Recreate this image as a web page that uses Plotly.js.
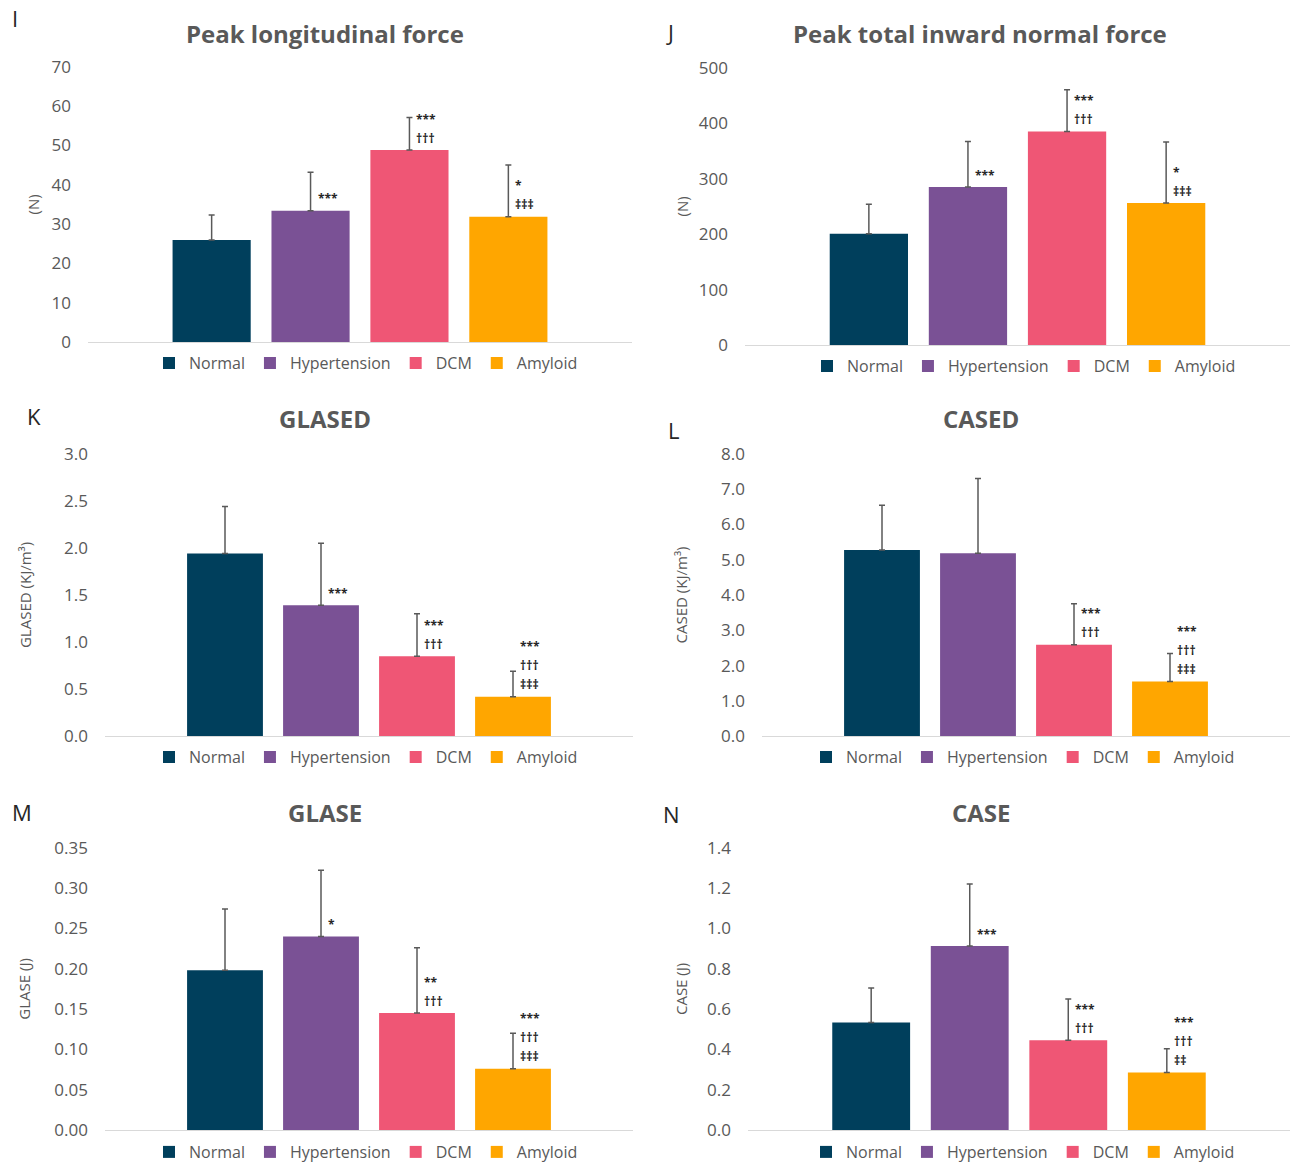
<!DOCTYPE html>
<html>
<head>
<meta charset="utf-8">
<script src="https://cdn.plot.ly/plotly-3.0.1.min.js"></script>
<style>
  html, body { margin: 0; padding: 0; background: #ffffff; }
  #chart { width: 1295px; height: 1169px; }
</style>
</head>
<body>
<div id="chart"></div>
<script>
// Groups and their colours
const groups = ['Normal', 'Hypertension', 'DCM', 'Amyloid'];
const groupColors = ['#003f5c', '#7a5195', '#ef5675', '#ffa600'];

// I: Peak longitudinal force (N), mean and SD
const peakLongMean = [26.0, 33.4, 48.8, 31.9];
const peakLongSD   = [6.3, 9.8, 8.3, 13.1];
const peakLongSig  = [[], ['***'], ['***', '†††'], ['*', '‡‡‡']];

// J: Peak total inward normal force (N)
const peakInwardMean = [201, 285, 385, 256];
const peakInwardSD   = [53, 82, 75, 110];
const peakInwardSig  = [[], ['***'], ['***', '†††'], ['*', '‡‡‡']];

// K: GLASED (KJ/m3)
const glasedMean = [1.94, 1.39, 0.85, 0.42];
const glasedSD   = [0.50, 0.66, 0.45, 0.27];
const glasedSig  = [[], ['***'], ['***', '†††'], ['***', '†††', '‡‡‡']];

// L: CASED (KJ/m3)
const casedMean = [5.27, 5.18, 2.59, 1.55];
const casedSD   = [1.27, 2.12, 1.16, 0.79];
const casedSig  = [[], [], ['***', '†††'], ['***', '†††', '‡‡‡']];

// M: GLASE (J)
const glaseMean = [0.198, 0.240, 0.145, 0.076];
const glaseSD   = [0.076, 0.082, 0.081, 0.044];
const glaseSig  = [[], ['*'], ['**', '†††'], ['***', '†††', '‡‡‡']];

// N: CASE (J)
const caseMean = [0.533, 0.912, 0.445, 0.286];
const caseSD   = [0.172, 0.308, 0.205, 0.118];
const caseSig  = [[], ['***'], ['***', '†††'], ['***', '†††', '‡‡']];

const FONT = 'Open Sans, Noto Sans, sans-serif';
const GREY = '#595959';

// Panel layout: pixel boxes of each plotting area on the 1295x1169 page
const W = 1295, H = 1169;
const panels = [
  { letter: 'I', title: 'Peak longitudinal force', ytitle: '(N)', ytStandoff: 8,
    mean: peakLongMean, sd: peakLongSD, sig: peakLongSig,
    range: [0, 70], dtick: 10, fmt: 'd',
    box: [88, 632, 67, 344], letterPos: [10, 18], titlePos: [325, 34], legendPos: [366, 365] },
  { letter: 'J', title: 'Peak total inward normal force', ytitle: '(N)', ytStandoff: 6,
    mean: peakInwardMean, sd: peakInwardSD, sig: peakInwardSig,
    range: [0, 500], dtick: 100, fmt: 'd',
    box: [745, 1290, 68, 347], letterPos: [664, 32], titlePos: [980, 34], legendPos: [1024, 368] },
  { letter: 'K', title: 'GLASED', ytitle: 'GLASED (KJ/m³)', ytStandoff: 28,
    mean: glasedMean, sd: glasedSD, sig: glasedSig,
    range: [0, 3], dtick: 0.5, fmt: '.1f',
    box: [105, 633, 456, 740], letterPos: [25, 418], titlePos: [325, 421], legendPos: [366, 761] },
  { letter: 'L', title: 'CASED', ytitle: 'CASED (KJ/m³)', ytStandoff: 29,
    mean: casedMean, sd: casedSD, sig: casedSig,
    range: [0, 8], dtick: 1, fmt: '.1f',
    box: [762, 1290, 456, 740], letterPos: [666, 432], titlePos: [981, 421], legendPos: [1023, 761] },
  { letter: 'M', title: 'GLASE', ytitle: 'GLASE (J)', ytStandoff: 20,
    mean: glaseMean, sd: glaseSD, sig: glaseSig,
    range: [0, 0.35], dtick: 0.05, fmt: '.2f',
    box: [105, 633, 852, 1136], letterPos: [10, 816], titlePos: [325, 817], legendPos: [366, 1158] },
  { letter: 'N', title: 'CASE', ytitle: 'CASE (J)', ytStandoff: 15,
    mean: caseMean, sd: caseSD, sig: caseSig,
    range: [0, 1.4], dtick: 0.2, fmt: '.1f',
    box: [748, 1290, 852, 1136], letterPos: [661, 818], titlePos: [981, 817], legendPos: [1023, 1158] }
];

const px = x => x / W;
const py = y => (H - y) / H;

const traces = [];
const annotations = [];
const layout = {
  width: W, height: H,
  margin: { l: 0, r: 0, t: 0, b: 0 },
  paper_bgcolor: '#ffffff',
  plot_bgcolor: '#ffffff',
  font: { family: FONT, color: GREY },
  barmode: 'overlay',
  showlegend: true,
  annotations: annotations
};

panels.forEach((p, i) => {
  const n = i + 1;
  const xa = n === 1 ? 'x' : 'x' + n;
  const ya = n === 1 ? 'y' : 'y' + n;
  const lg = n === 1 ? 'legend' : 'legend' + n;
  const [x0, x1, yTop, yBottom] = p.box;

  // one bar trace per group so each panel carries its own legend
  groups.forEach((g, k) => {
    traces.push({
      type: 'bar',
      name: g,
      x: [k],
      y: [p.mean[k]],
      width: 0.79,
      xaxis: xa, yaxis: ya,
      legend: lg,
      marker: { color: groupColors[k], line: { width: 0 } },
      error_y: {
        type: 'data', symmetric: false,
        array: [p.sd[k]], arrayminus: [0],
        color: GREY, thickness: 1.5, width: 3
      },
      hoverinfo: 'name+y'
    });

    // significance markers stacked above the bar, bottom line first
    const lines = p.sig[k].slice().reverse();
    lines.forEach((txt, j) => {
      annotations.push({
        xref: xa, yref: ya, x: k, y: p.mean[k],
        text: txt, showarrow: false,
        xanchor: 'left', yanchor: 'middle',
        xshift: 5, yshift: 12 + 19 * j,
        font: { family: FONT, size: 12, color: '#262626', weight: 'bold' }
      });
    });
  });

  layout['xaxis' + (n === 1 ? '' : n)] = {
    domain: [px(x0), px(x1)],
    anchor: ya,
    range: [-1.25, 4.25],
    showticklabels: false, ticks: '',
    showgrid: false, zeroline: false,
    showline: true, linecolor: '#d9d9d9', linewidth: 1,
    fixedrange: true
  };
  layout['yaxis' + (n === 1 ? '' : n)] = {
    domain: [py(yBottom), py(yTop)],
    anchor: xa,
    range: p.range, dtick: p.dtick, tick0: 0,
    tickformat: p.fmt,
    ticks: '', ticklabelstandoff: 16,
    tickfont: { family: FONT, size: 17, color: GREY },
    showgrid: false, zeroline: false, showline: false,
    title: { text: p.ytitle, font: { family: FONT, size: 15, color: GREY }, standoff: p.ytStandoff },
    fixedrange: true
  };
  layout[lg] = {
    orientation: 'h',
    x: px(p.legendPos[0]), xanchor: 'center',
    y: py(p.legendPos[1]), yanchor: 'middle',
    font: { family: FONT, size: 16, color: GREY },
    bgcolor: 'rgba(0,0,0,0)',
    itemclick: false, itemdoubleclick: false
  };

  // panel heading and letter
  annotations.push({
    xref: 'paper', yref: 'paper',
    x: px(p.titlePos[0]), y: py(p.titlePos[1]),
    xanchor: 'center', yanchor: 'middle',
    text: p.title, showarrow: false,
    font: { family: FONT, size: 24, color: GREY, weight: 'bold' }
  });
  annotations.push({
    xref: 'paper', yref: 'paper',
    x: px(p.letterPos[0]), y: py(p.letterPos[1]),
    xanchor: 'left', yanchor: 'middle',
    text: p.letter, showarrow: false,
    font: { family: FONT, size: 22, color: '#262626' }
  });
});

Plotly.newPlot('chart', traces, layout, { displayModeBar: false });
</script>
</body>
</html>
